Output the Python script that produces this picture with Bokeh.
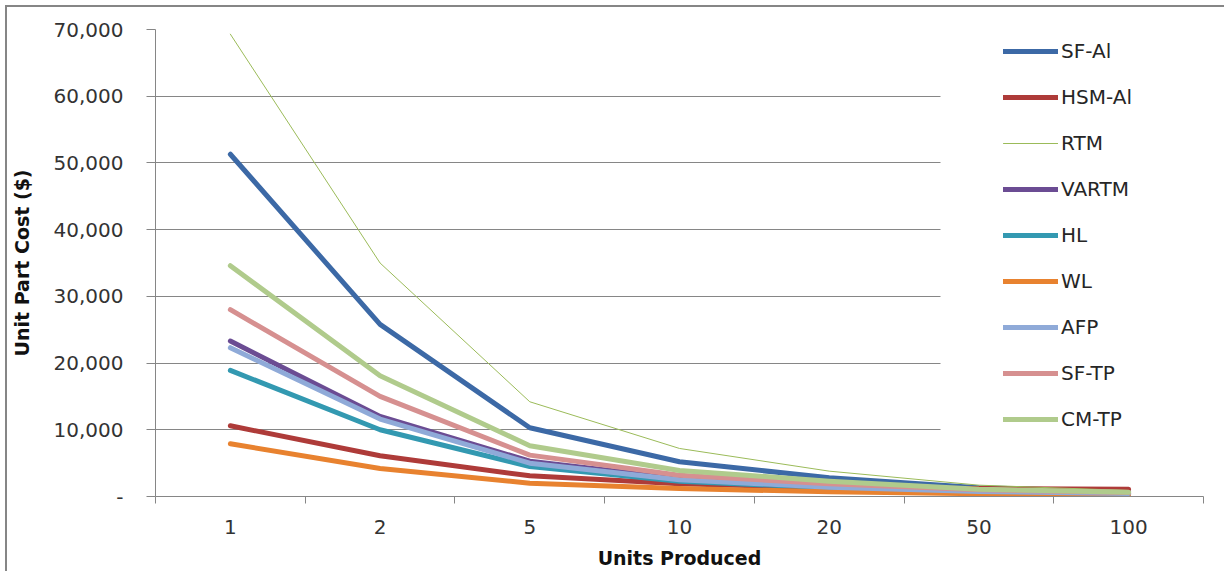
from bokeh.plotting import figure
from bokeh.models import Range1d, FixedTicker, NumeralTickFormatter, Legend, LegendItem
from bokeh.embed import file_html
from bokeh.resources import INLINE

# ---- data ----
units = ["1", "2", "5", "10", "20", "50", "100"]

sf_al = [51300, 25800, 10300, 5200, 2800, 1300, 700]
hsm_al = [10600, 6100, 3100, 1900, 1300, 1200, 1100]
rtm = [69300, 35000, 14200, 7200, 3800, 1700, 900]
vartm = [23300, 12000, 5300, 2700, 1500, 800, 500]
hl = [18900, 10000, 4500, 2300, 1300, 700, 450]
wl = [7900, 4200, 2000, 1200, 700, 400, 250]
afp = [22300, 11600, 5000, 2500, 1400, 750, 450]
sf_tp = [28000, 15000, 6200, 3200, 1900, 1000, 600]
cm_tp = [34600, 18100, 7600, 3900, 2300, 1100, 650]

series_names = ["SF-Al", "HSM-Al", "RTM", "VARTM", "HL", "WL", "AFP", "SF-TP", "CM-TP"]
series_values = [sf_al, hsm_al, rtm, vartm, hl, wl, afp, sf_tp, cm_tp]

y_ticks = [0, 10000, 20000, 30000, 40000, 50000, 60000, 70000]

# ---- styles ----
colors = ["#3C69A6", "#AE3B39", "#9BBB59", "#6B4C93", "#3399B1", "#E8822F",
          "#8FAAD8", "#D69090", "#B0CB8C"]
widths = [5, 5, 1, 5, 5, 5, 5, 5, 5]
AX = "#868686"
FONT = "DejaVu Sans"

x = list(range(len(units)))

p = figure(
    frame_width=1048, frame_height=467,
    x_range=Range1d(-0.5, len(units) - 0.5),
    y_range=Range1d(0, 70000),
    output_backend="svg", toolbar_location=None,
    min_border_left=148, min_border_top=22, min_border_right=21, min_border_bottom=0,
)
p.styles = {"border-top": "2px solid #868686", "border-left": "2px solid #868686",
            "margin-left": "5px", "margin-top": "5px"}
p.background_fill_color = "white"
p.border_fill_color = "white"
p.outline_line_color = None

renderers = []
for name, vals, c, w in zip(series_names, series_values, colors, widths):
    r = p.line(x, vals, line_color=c, line_width=w, line_cap="round", line_join="round")
    renderers.append(r)

# grid (gridlines stop where the legend area begins, as in the reference)
p.xgrid.visible = False
p.ygrid.ticker = FixedTicker(ticks=y_ticks)
p.ygrid.grid_line_color = AX
p.ygrid.grid_line_width = 1
p.ygrid.cross_bounds = (-0.5, 4.74)

# y axis
ya = p.yaxis[0]
ya.ticker = FixedTicker(ticks=y_ticks)
ya.formatter = NumeralTickFormatter(format="0,0")
ya.major_label_overrides = {0: "-"}
ya.axis_line_color = AX
ya.major_tick_line_color = AX
ya.major_tick_out = 9
ya.major_tick_in = 0
ya.minor_tick_line_color = None
ya.major_label_standoff = 23
ya.major_label_text_font = FONT
ya.major_label_text_font_size = "20px"
ya.major_label_text_color = "#333333"
ya.axis_label = "Unit Part Cost ($)"
ya.axis_label_text_font = FONT
ya.axis_label_text_font_style = "bold"
ya.axis_label_text_font_size = "19px"
ya.axis_label_text_color = "#111111"
ya.axis_label_standoff = 18

# x axis
xa = p.xaxis[0]
xa.ticker = FixedTicker(ticks=x, minor_ticks=[i - 0.5 for i in range(len(units) + 1)])
xa.major_label_overrides = {i: u for i, u in enumerate(units)}
xa.axis_line_color = AX
xa.major_tick_line_color = None
xa.major_tick_out = 7
xa.major_tick_in = 0
xa.minor_tick_line_color = AX
xa.minor_tick_out = 7
xa.minor_tick_in = 0
xa.major_label_standoff = 16
xa.major_label_text_font = FONT
xa.major_label_text_font_size = "20px"
xa.major_label_text_color = "#333333"
xa.axis_label = "Units Produced"
xa.axis_label_text_font = FONT
xa.axis_label_text_font_style = "bold"
xa.axis_label_text_font_size = "19px"
xa.axis_label_text_color = "#111111"
xa.axis_label_standoff = 10

# legend
items = [LegendItem(label=n, renderers=[r]) for n, r in zip(series_names, renderers)]
legend = Legend(
    items=items, location=(848, 65), padding=0, spacing=22,
    glyph_width=55, glyph_height=20, label_height=20, label_standoff=3,
    label_text_font=FONT, label_text_font_size="20px", label_text_color="#262626",
    background_fill_color="white", background_fill_alpha=1.0,
    border_line_color=None,
)
p.add_layout(legend)

open("out.html", "w").write(file_html(p, INLINE))
